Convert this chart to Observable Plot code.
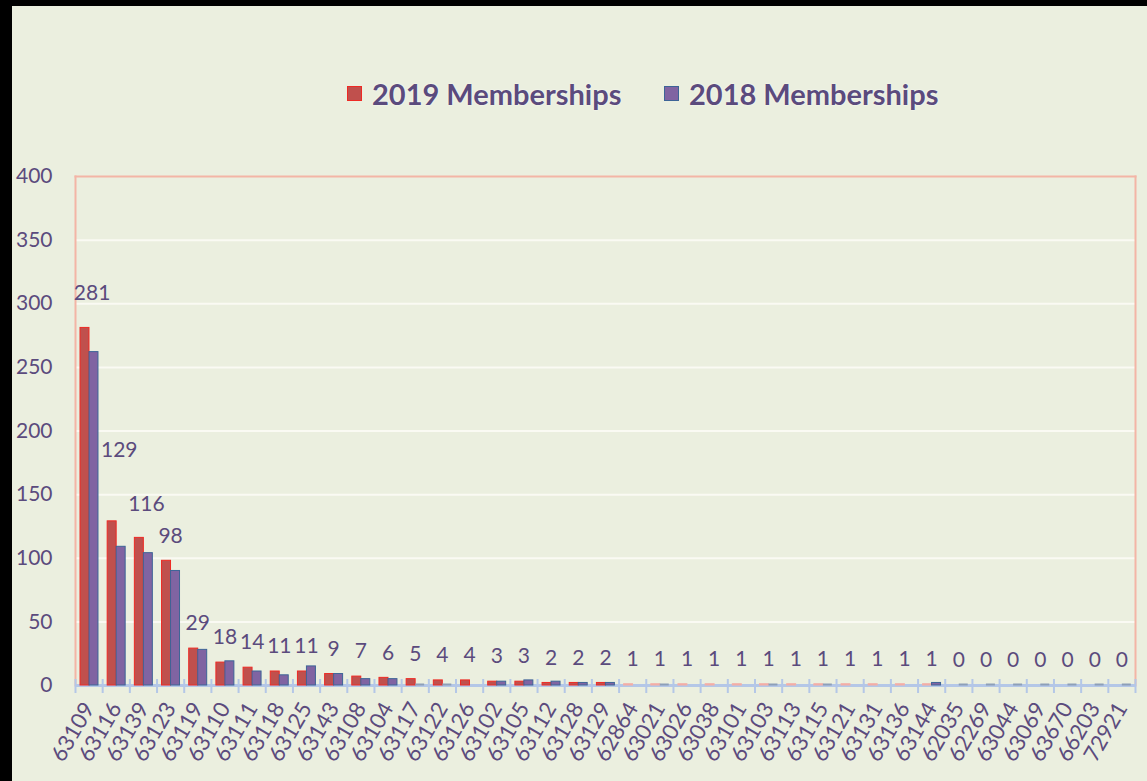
<!DOCTYPE html>
<html>
<head>
<meta charset="utf-8">
<script src="https://cdn.jsdelivr.net/npm/d3@7"></script>
<script src="https://cdn.jsdelivr.net/npm/@observablehq/plot@0.6"></script>
<style>
  html, body { margin: 0; padding: 0; background: #000; width: 1147px; height: 781px; overflow: hidden; }
  #chart { position: absolute; left: 12px; top: 6px; width: 1135px; height: 775px; background: #ebefdf; font-family: Lato, "Open Sans", sans-serif; }
  #legend { position: absolute; top: 72px; left: 0; width: 100%; height: 30px; }
  .item { position: absolute; top: 0; display: flex; align-items: center; height: 30px; }
  .sw { width: 15px; height: 15px; margin-right: 10px; box-sizing: border-box; }
  .lab { font-size: 29px; font-weight: bold; color: #5b4b7d; white-space: nowrap; text-shadow: 0 0 2px #fff; }
  #plot { position: absolute; left: 0; top: 144px; }
</style>
</head>
<body>
<div id="chart">
  <div id="legend">
    <div class="item" style="left:335px"><div class="sw" style="background:#c0504d;border:1px solid #ee2a24"></div><span class="lab">2019 Memberships</span></div>
    <div class="item" style="left:652px"><div class="sw" style="background:#8064a2;border:1px solid #3d6497"></div><span class="lab">2018 Memberships</span></div>
  </div>
  <div id="plot"></div>
</div>
<script>
const zips = ["63109","63116","63139","63123","63119","63110","63111","63118","63125","63143",
  "63108","63104","63117","63122","63126","63102","63105","63112","63128","63129",
  "62864","63021","63026","63038","63101","63103","63113","63115","63121","63131",
  "63136","63144","62035","62269","63044","63069","63670","66203","72921"];
const members2019 = [281,129,116,98,29,18,14,11,11,9,
  7,6,5,4,4,3,3,2,2,2,
  1,1,1,1,1,1,1,1,1,1,
  1,1,0,0,0,0,0,0,0];
const members2018 = [262,109,104,90,28,19,11,8,15,9,
  5,5,0,0,null,3,4,3,2,2,
  null,0,null,null,null,0,null,0,null,null,
  null,2,0,0,0,0,0,0,0];
const yTicks = [0,50,100,150,200,250,300,350,400];

const rows = zips.map((zip, i) => ({zip, i, v2019: members2019[i], v2018: members2018[i]}));

const purple = "#5b4b7d";
const W = 1135, H = 631;
const mL = 63, mR = 12, mT = 26, mB = 96;
const plotH = H - mT - mB;

const special = {"63109": -35, "63116": -71, "63139": -34};
const normalRows = rows.filter(d => !(d.zip in special));

const labelMarks = Object.entries(special).map(([zip, dy]) =>
  Plot.text(rows.filter(d => d.zip === zip), {
    x: d => d.i + 0.5, y: "v2019", text: d => String(d.v2019),
    dy, fontSize: 21, fill: purple, dx: 3
  })
);

const chart = Plot.plot({
  width: W, height: H,
  marginLeft: mL, marginRight: mR, marginTop: mT, marginBottom: mB,
  style: { background: "transparent", fontFamily: "Lato, 'Open Sans', sans-serif", color: purple, overflow: "visible" },
  x: { type: "linear", domain: [0, zips.length] },
  y: { domain: [0, 400] },
  marks: [
    Plot.gridY(yTicks.filter(t => t > 0 && t < 400), { stroke: "#fafaf3", strokeOpacity: 1, strokeWidth: 2 }),
    Plot.frame({ anchor: "left", stroke: "#f3b5a6", strokeWidth: 2 }),
    Plot.frame({ anchor: "top", stroke: "#f3b5a6", strokeWidth: 2 }),
    Plot.frame({ anchor: "right", stroke: "#f3b5a6", strokeWidth: 2 }),
    Plot.ruleY([0], { stroke: "#b4c7e7", strokeWidth: 3 }),
    Plot.tickX(d3.range(zips.length + 1), { x: d => d, stroke: "#b4c7e7", strokeWidth: 2, insetTop: plotH - 6, insetBottom: -8 }),
    Plot.rectY(rows.filter(d => d.v2019 > 1), {
      x1: d => d.i, x2: d => d.i + 1, y1: 0, y2: "v2019",
      fill: "#c0504d", stroke: "#ee2a24", strokeWidth: 1, insetLeft: 5, insetRight: 13.2
    }),
    Plot.rectY(rows.filter(d => d.v2019 === 1), {
      x1: d => d.i, x2: d => d.i + 1, y1: 0, y2: "v2019",
      fill: "#f0a8a0", stroke: "#f4b0a8", strokeWidth: 1, insetLeft: 5, insetRight: 13.2
    }),
    Plot.rectY(rows.filter(d => d.v2018 != null && d.v2018 > 0), {
      x1: d => d.i, x2: d => d.i + 1, y1: 0, y2: "v2018",
      fill: "#8064a2", stroke: "#3d6497", strokeWidth: 1, insetLeft: 14, insetRight: 4.2
    }),
    Plot.ruleY(rows.filter(d => d.v2018 === 0), {
      x1: d => d.i, x2: d => d.i + 1, y: 0, dy: -1,
      stroke: "#8d9fb8", strokeWidth: 2, insetLeft: 14, insetRight: 4.2
    }),
    Plot.axisY({ ticks: yTicks, tickSize: 0, tickPadding: 23, fontSize: 21, fill: purple, label: null }),
    Plot.axisX({
      ticks: zips.map((_, i) => i + 0.5),
      tickFormat: v => zips[Math.floor(v)],
      tickRotate: -60, tickSize: 0, tickPadding: 19, fontSize: 22, fill: purple, label: null
    }),
    Plot.text(normalRows, {
      x: d => d.i + 0.5, y: "v2019", text: d => String(d.v2019),
      dy: -25, fontSize: 21, fill: purple
    }),
    ...labelMarks
  ]
});
document.getElementById("plot").appendChild(chart);
</script>
</body>
</html>
